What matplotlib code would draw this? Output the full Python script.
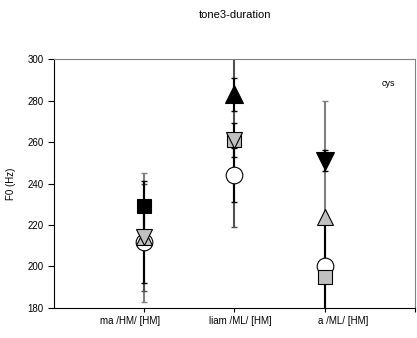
import numpy as np
import matplotlib
matplotlib.use('Agg')
import matplotlib.pyplot as plt

# categories (x positions 1..3)
categories = ['ma /HM/ [HM]', 'liam /ML/ [HM]', 'a /ML/ [HM]']
cat_x = [1, 2, 3]
nan = np.nan

# F0 means and error sizes per marker series (nan = absent)
black_square = [229, nan, nan]
black_square_err = [12, nan, nan]
black_up = [nan, 283, nan]
black_up_err = [nan, 8, nan]
black_down = [nan, nan, 251]
black_down_err = [nan, nan, 5]
gray_up = [214, nan, 224]
gray_up_err = [31, nan, 56]
gray_down = [214, 261, nan]
gray_down_err = [26, 42, nan]
gray_square = [nan, 261, 195]
gray_square_err = [nan, 8, 3]
circle = [212, 244, 200]
circle_err = [20, 13, 25]

plt.rcParams['font.family'] = ['Liberation Sans', 'DejaVu Sans']

fig = plt.figure(figsize=(4.17, 3.38), dpi=100)
ax = fig.add_axes([0.1295, 0.0888, 0.8655, 0.7366])

GRAY = '#c0c0c0'
# (values, errors, marker, face, errorbar colour, size, z-order)
series = [
    (circle, circle_err, 'o', 'white', 'black', 12, 3),
    (gray_square, gray_square_err, 's', GRAY, 'black', 10.5, 4),
    (gray_up, gray_up_err, '^', GRAY, '#808080', 12, 5),
    (gray_down, gray_down_err, 'v', GRAY, '#505050', 12, 5),
    (black_square, black_square_err, 's', 'black', 'black', 10.5, 6),
    (black_up, black_up_err, '^', 'black', 'black', 12.5, 6),
    (black_down, black_down_err, 'v', 'black', 'black', 12.5, 6),
]

for vals, err, mk, fc, ec, ms, z in series:
    ez = 2 if ec == 'black' else 1.5
    ax.errorbar(cat_x, vals, yerr=err, fmt='none', ecolor=ec,
                elinewidth=1.5, capsize=2.5, capthick=1.0, zorder=ez)
for vals, err, mk, fc, ec, ms, z in series:
    ax.plot(cat_x, vals, linestyle='none', marker=mk, markersize=ms,
            markerfacecolor=fc, markeredgecolor='black',
            markeredgewidth=0.8, zorder=z)

ax.set_xlim(0, 4)
ax.set_ylim(180, 300)
ax.set_yticks(range(180, 301, 20))
ax.set_xticks([1, 2, 3, 4])
ax.set_xticklabels([])
label_x = [0.84, 2.07, 3.21]
for lx, lab in zip(label_x, categories):
    ax.text(lx, 176, lab, ha='center', va='top', fontsize=7)

ax.tick_params(axis='y', direction='out', length=4, width=0.8, labelsize=7)
ax.tick_params(axis='x', direction='out', length=3, width=0.8)
ax.set_ylabel('F0 (Hz)', fontsize=7, labelpad=8)

for side in ['top', 'right']:
    ax.spines[side].set_color('#808080')
for side in ['left', 'bottom']:
    ax.spines[side].set_color('black')
for s in ax.spines.values():
    s.set_linewidth(0.8)

ax.text(3.71, 288, 'cys', ha='center', va='center', fontsize=6.5)
fig.text(0.563, 0.955, 'tone3-duration', ha='center', va='center', fontsize=8)

fig.savefig('out.png', dpi=100)
